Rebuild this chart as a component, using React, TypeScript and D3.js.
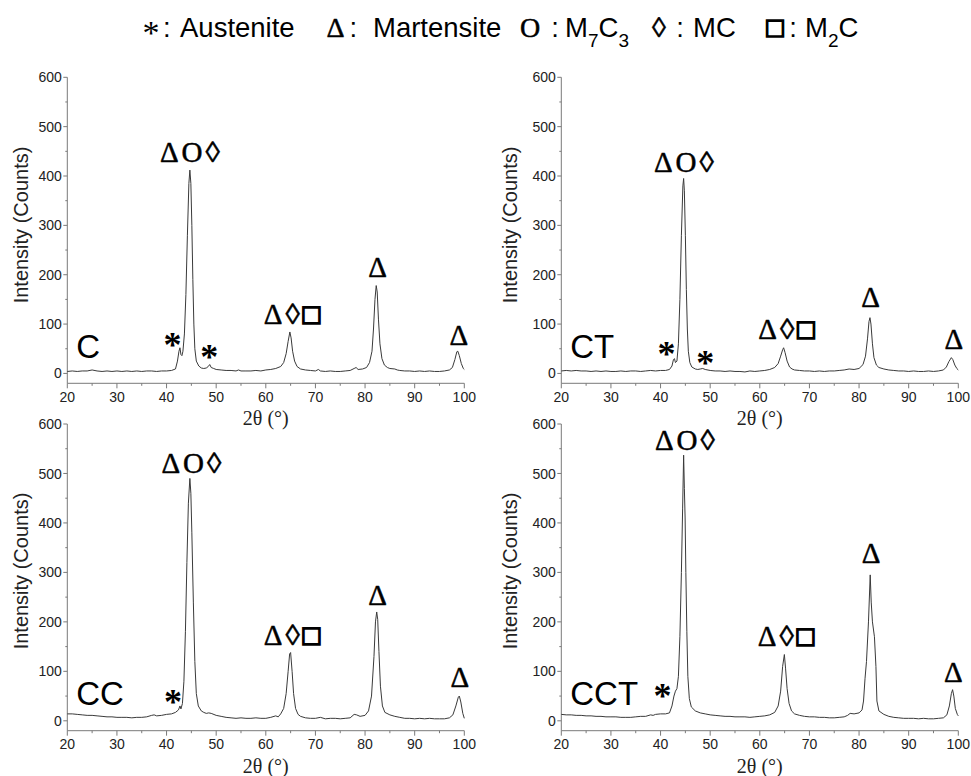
import React from "react";
import * as d3 from "d3";

const W = 971;
const H = 776;

// ---- ticks ----
const xTicks = [20, 30, 40, 50, 60, 70, 80, 90, 100];
const xMinor = [25, 35, 45, 55, 65, 75, 85, 95];
const yTicks = [0, 100, 200, 300, 400, 500, 600];
const yMinor = [50, 150, 250, 350, 450, 550];

// ---- traces: [2theta, counts] ----
const traceC: [number, number][] = [
  [20, 4], [21, 5], [22, 4], [23, 5], [24, 5], [25, 7], [26, 5], [27, 4], [28, 5], [29, 4], [30, 5], [31, 4], [32, 5], [33, 4], [34, 5], [35, 4], [36, 5], [37, 5], [38, 4], [39, 5], [40, 5], [41, 6], [41.8, 9], [42.2, 25], [42.5, 45], [42.7, 52], [42.9, 38], [43.1, 36], [43.3, 45], [43.6, 80], [43.9, 160], [44.2, 280], [44.5, 385], [44.7, 412], [44.9, 385], [45.1, 300], [45.3, 190], [45.5, 100], [45.7, 50], [46, 25], [46.5, 15], [47, 11], [47.5, 10], [48, 11], [48.4, 14], [48.7, 18], [49, 12], [49.5, 10], [50, 8], [51, 7], [52, 6], [53, 6], [54, 5], [54.5, 7], [55, 5], [56, 5], [57, 5], [58, 6], [59, 5], [60, 7], [61, 8], [62, 10], [63, 14], [63.6, 22], [64.1, 40], [64.5, 65], [64.85, 84], [65.1, 72], [65.4, 45], [65.8, 25], [66.3, 14], [67, 9], [68, 7], [69, 6], [70, 5], [70.6, 8], [71, 5], [72, 4], [73, 5], [74, 4], [75, 4], [76, 5], [77, 6], [77.8, 10], [78.2, 12], [78.6, 8], [79.5, 9], [80.3, 12], [80.9, 22], [81.4, 45], [81.7, 90], [82.0, 150], [82.25, 178], [82.45, 165], [82.7, 110], [83.0, 60], [83.4, 30], [83.9, 17], [84.5, 12], [85, 10], [86, 9], [86.5, 7], [87, 6], [88, 5], [89, 5], [90, 4], [91, 5], [92, 4], [93, 5], [94, 4], [95, 4], [96, 5], [97, 7], [97.6, 12], [98.1, 28], [98.5, 44], [98.7, 45], [99.0, 36], [99.4, 20], [99.8, 10], [100, 8],
];

const traceCT: [number, number][] = [
  [20, 5], [21, 6], [22, 5], [23, 6], [24, 5], [25, 5], [26, 4], [27, 5], [28, 4], [29, 5], [30, 4], [31, 4], [32, 5], [33, 4], [34, 5], [35, 5], [36, 4], [37, 5], [38, 6], [39, 5], [40, 6], [41, 6], [41.8, 8], [42.3, 15], [42.6, 28], [42.8, 30], [43.0, 22], [43.3, 25], [43.6, 60], [43.9, 150], [44.2, 280], [44.5, 380], [44.65, 395], [44.8, 370], [45.0, 280], [45.2, 170], [45.4, 90], [45.6, 45], [45.9, 22], [46.3, 13], [47, 9], [47.5, 8], [48, 9], [48.5, 10], [49, 8], [50, 6], [51, 5], [52, 5], [53, 4], [54, 5], [55, 4], [56, 4], [57, 3], [58, 5], [59, 4], [60, 5], [61, 6], [62, 8], [63, 12], [63.7, 20], [64.2, 35], [64.6, 48], [64.8, 52], [65.1, 42], [65.5, 25], [66, 13], [66.5, 9], [67, 7], [68, 6], [69, 5], [70, 5], [71, 4], [72, 5], [73, 4], [74, 5], [75, 5], [76, 6], [77, 7], [78, 9], [79, 8], [80, 10], [80.8, 18], [81.3, 35], [81.7, 70], [82.0, 105], [82.2, 113], [82.4, 100], [82.7, 60], [83.0, 32], [83.5, 17], [84, 12], [85, 9], [86, 7], [87, 6], [88, 5], [89, 5], [90, 4], [91, 5], [92, 4], [93, 4], [94, 5], [95, 4], [96, 5], [97, 7], [97.6, 13], [98.1, 24], [98.6, 32], [98.9, 28], [99.3, 17], [99.7, 10], [100, 7],
];

const traceCC: [number, number][] = [
  [20, 14], [21, 14], [22, 13], [23, 12], [24, 11], [25, 11], [26, 10], [27, 9], [28, 8], [29, 8], [30, 7], [31, 7], [32, 7], [33, 6], [34, 7], [35, 7], [36, 8], [37, 11], [37.5, 12], [38, 10], [39, 11], [40, 13], [41, 14], [41.8, 17], [42.4, 22], [42.7, 30], [42.9, 24], [43.2, 35], [43.5, 80], [43.8, 180], [44.1, 320], [44.4, 440], [44.7, 490], [44.9, 460], [45.1, 380], [45.4, 240], [45.7, 120], [46.0, 55], [46.4, 30], [47, 20], [47.5, 17], [48, 15], [48.5, 16], [49, 15], [50, 11], [51, 9], [52, 7], [53, 6], [54, 5], [55, 6], [56, 5], [57, 5], [58, 6], [59, 5], [60, 5], [61, 7], [62, 10], [62.5, 8], [63, 14], [63.6, 25], [64.1, 55], [64.5, 100], [64.8, 135], [65.0, 138], [65.3, 100], [65.6, 55], [66.0, 25], [66.5, 13], [67, 9], [68, 6], [69, 5], [70, 5], [71, 7], [72, 4], [73, 5], [74, 5], [75, 4], [76, 5], [77, 6], [77.8, 13], [78.3, 12], [79, 9], [80, 11], [80.7, 20], [81.3, 50], [81.8, 130], [82.1, 200], [82.35, 220], [82.55, 205], [82.8, 140], [83.1, 70], [83.5, 30], [84, 17], [85, 12], [86, 9], [87, 7], [88, 5], [89, 5], [90, 4], [91, 5], [92, 4], [93, 5], [94, 4], [95, 4], [96, 4], [97, 6], [97.7, 12], [98.3, 30], [98.8, 48], [99.0, 50], [99.3, 38], [99.7, 15], [100, 5],
];

const traceCCT: [number, number][] = [
  [20, 13], [21, 12], [22, 12], [23, 11], [24, 11], [25, 10], [26, 10], [27, 9], [28, 9], [29, 8], [30, 8], [31, 8], [32, 7], [33, 7], [34, 7], [35, 8], [36, 9], [37, 9], [38, 12], [38.5, 11], [39, 13], [40, 14], [41, 14], [41.8, 16], [42.3, 30], [42.7, 50], [43.0, 60], [43.3, 65], [43.6, 90], [43.9, 170], [44.2, 300], [44.45, 430], [44.65, 537], [44.8, 470], [44.95, 410], [45.1, 300], [45.3, 180], [45.5, 90], [45.8, 45], [46.2, 28], [47, 20], [48, 16], [49, 14], [50, 12], [51, 11], [52, 10], [53, 9], [54, 9], [55, 8], [56, 8], [57, 8], [58, 7], [59, 8], [60, 9], [61, 10], [62, 12], [63, 17], [63.7, 30], [64.2, 60], [64.6, 110], [64.95, 134], [65.2, 105], [65.5, 65], [65.9, 35], [66.4, 20], [67, 14], [68, 11], [69, 9], [70, 8], [71, 8], [72, 7], [73, 7], [74, 6], [75, 6], [76, 7], [77, 8], [77.7, 11], [78.2, 15], [79, 14], [80, 16], [80.6, 22], [80.9, 40], [81.2, 85], [81.5, 120], [81.9, 200], [82.25, 295], [82.45, 240], [82.7, 200], [83.1, 170], [83.4, 110], [83.6, 40], [84, 20], [85, 13], [86, 9], [87, 7], [88, 6], [89, 5], [90, 5], [91, 5], [92, 4], [93, 5], [94, 4], [95, 4], [96, 5], [97, 6], [97.7, 12], [98.2, 30], [98.6, 55], [98.85, 63], [99.1, 50], [99.4, 25], [99.8, 13], [100, 10],
];

// ---- annotations: [text, 2theta, counts] (asterisks: centre; others: baseline) ----
type Ann = [string, number, number];
const annC: Ann[] = [["ΔO◊", 44.7, 429], ["*", 41.2, 68], ["*", 48.6, 44], ["Δ◊□", 65.3, 101], ["Δ", 82.5, 196], ["Δ", 98.9, 57]];
const annCT: Ann[] = [["ΔO◊", 44.7, 409], ["*", 41.2, 50], ["*", 49.0, 32], ["Δ◊□", 65.4, 69], ["Δ", 82.3, 135], ["Δ", 99.1, 49]];
const annCC: Ann[] = [["ΔO◊", 45.0, 500], ["*", 41.3, 49], ["Δ◊□", 65.3, 153], ["Δ", 82.5, 234], ["Δ", 99.1, 69]];
const annCCT: Ann[] = [["ΔO◊", 44.9, 548], ["*", 40.4, 61], ["Δ◊□", 65.3, 151], ["Δ", 82.4, 318], ["Δ", 99.0, 78]];

const panelNames = ["C", "CT", "CC", "CCT"];
const panelLabelAt: [number, number] = [21.8, 32];

// ---- legend ----
const legendSymbols = ["*", "Δ", "O", "◊", "□"];
const legendNames: [string, boolean][][] = [
  [["Austenite", false]],
  [["Martensite", false]],
  [["M", false], ["7", true], ["C", false], ["3", true]],
  [["MC", false]],
  [["M", false], ["2", true], ["C", false]],
];

const xLabel = "2θ (°)";
const yLabel = "Intensity (Counts)";

// ---- layout (pixels) ----
const layout = [
  { x0: 67.3, x1: 464.3, yb: 383.3, yt: 77.3, ylx: 28, yly: 225 },
  { x0: 561.3, x1: 958.3, yb: 383.3, yt: 77.3, ylx: 516.5, yly: 225 },
  { x0: 67.3, x1: 464.3, yb: 730.7, yt: 424, ylx: 28, yly: 571 },
  { x0: 561.3, x1: 958.3, yb: 730.7, yt: 424, ylx: 516.5, yly: 571 },
];
const legendSymX = [151, 335.5, 530, 659, 775];
const legendColonX = [166.7, 353.3, 555, 680, 793];
const legendNameX = [180, 373, 565, 693, 805];

const traces = [traceC, traceCT, traceCC, traceCCT];
const anns = [annC, annCT, annCC, annCCT];

const AXIS = "#7a7a7a";
const TXT = "#222";
const LINE = "#3a3a3a";
const SANS = "'Liberation Sans', Arial, sans-serif";
const SERIF = "'Liberation Serif', 'Times New Roman', serif";

function SymSpans({ text }: { text: string }) {
  return (
    <>
      {Array.from(text).map((ch, k) => (
        <tspan
          key={k}
          stroke="#000"
          strokeWidth={ch === "□" ? 1.6 : 0.5}
          fontWeight={ch === "□" ? "bold" : "normal"}
        >
          {ch}
        </tspan>
      ))}
    </>
  );
}

function Panel({ idx }: { idx: number }) {
  const L = layout[idx];
  const x = d3.scaleLinear().domain([20, 100]).range([L.x0, L.x1]);
  const y = d3.scaleLinear().domain([-20, 600]).range([L.yb, L.yt]);
  const line = d3
    .line<[number, number]>()
    .x((d) => x(d[0]))
    .y((d) => y(d[1]));
  const ax = L.x0;
  const ay = L.yb;
  return (
    <g>
      <line x1={ax} x2={ax} y1={y(600)} y2={ay} stroke={AXIS} strokeWidth={1} />
      <line x1={ax} x2={x(100)} y1={ay} y2={ay} stroke={AXIS} strokeWidth={1} />
      {yTicks.map((t) => (
        <g key={"yt" + t}>
          <line x1={ax - 4} x2={ax} y1={y(t)} y2={y(t)} stroke={AXIS} />
          <text x={ax - 5.5} y={y(t)} dy="0.36em" textAnchor="end" fontFamily={SANS} fontSize={14} fill={TXT}>
            {t}
          </text>
        </g>
      ))}
      {yMinor.map((t) => (
        <line key={"ym" + t} x1={ax - 2} x2={ax} y1={y(t)} y2={y(t)} stroke={AXIS} />
      ))}
      {xTicks.map((t) => (
        <g key={"xt" + t}>
          <line x1={x(t)} x2={x(t)} y1={ay} y2={ay + 5} stroke={AXIS} />
          <text x={x(t)} y={ay + 13.7} dy="0.36em" textAnchor="middle" fontFamily={SANS} fontSize={14} fill={TXT}>
            {t}
          </text>
        </g>
      ))}
      {xMinor.map((t) => (
        <line key={"xm" + t} x1={x(t)} x2={x(t)} y1={ay} y2={ay + 2.5} stroke={AXIS} />
      ))}
      <text x={(L.x0 + L.x1) / 2} y={ay + 42} textAnchor="middle" fontFamily={SERIF} fontSize={20} fill={TXT}>
        {xLabel}
      </text>
      <text
        transform={`translate(${L.ylx},${L.yly}) rotate(-90)`}
        textAnchor="middle"
        fontFamily={SANS}
        fontSize={20}
        fill={TXT}
      >
        {yLabel}
      </text>
      <path d={line(traces[idx]) || ""} fill="none" stroke={LINE} strokeWidth={1} />
      <text x={x(panelLabelAt[0])} y={y(panelLabelAt[1])} fontFamily={SANS} fontSize={33} fill="#000">
        {panelNames[idx]}
      </text>
      {anns[idx].map(([t, px, py], i) =>
        t === "*" ? (
          <text key={i} x={x(px)} y={y(py) + 17} textAnchor="middle" fontFamily={SERIF} fontWeight="bold" fontSize={36} fill="#000">
            *
          </text>
        ) : (
          <text key={i} x={x(px) + 1.5} y={y(py)} textAnchor="middle" fontFamily={SERIF} fontSize={29} letterSpacing={3} fill="#000">
            <SymSpans text={t} />
          </text>
        )
      )}
    </g>
  );
}

export default function App() {
  const legY = 36.7;
  return (
    <svg width={W} height={H} style={{ position: "absolute", left: 0, top: 0, background: "#fff" }}>
      <rect x={0} y={0} width={W} height={H} fill="#fff" />
      {legendSymbols.map((s, i) => (
        <g key={"lg" + i}>
          <text
            x={legendSymX[i]}
            y={i === 0 ? 44 : legY}
            textAnchor="middle"
            fontFamily={SERIF}
            fontSize={i === 0 ? 34 : 28}
            fill="#000"
          >
            {i === 0 ? s : <SymSpans text={s} />}
          </text>
          <text x={legendColonX[i]} y={legY} textAnchor="middle" fontFamily={SANS} fontSize={27.5} fill="#000">
            :
          </text>
          <text x={legendNameX[i]} y={legY} fontFamily={SANS} fontSize={27.5} fill="#000">
            {legendNames[i].map(([seg, sub], j) => {
              const prevSub = j > 0 && legendNames[i][j - 1][1];
              const dy = sub ? 10 : prevSub ? -10 : 0;
              return (
                <tspan key={j} dy={dy} fontSize={sub ? 19 : 27.5}>
                  {seg}
                </tspan>
              );
            })}
          </text>
        </g>
      ))}
      {[0, 1, 2, 3].map((i) => (
        <Panel key={i} idx={i} />
      ))}
    </svg>
  );
}
